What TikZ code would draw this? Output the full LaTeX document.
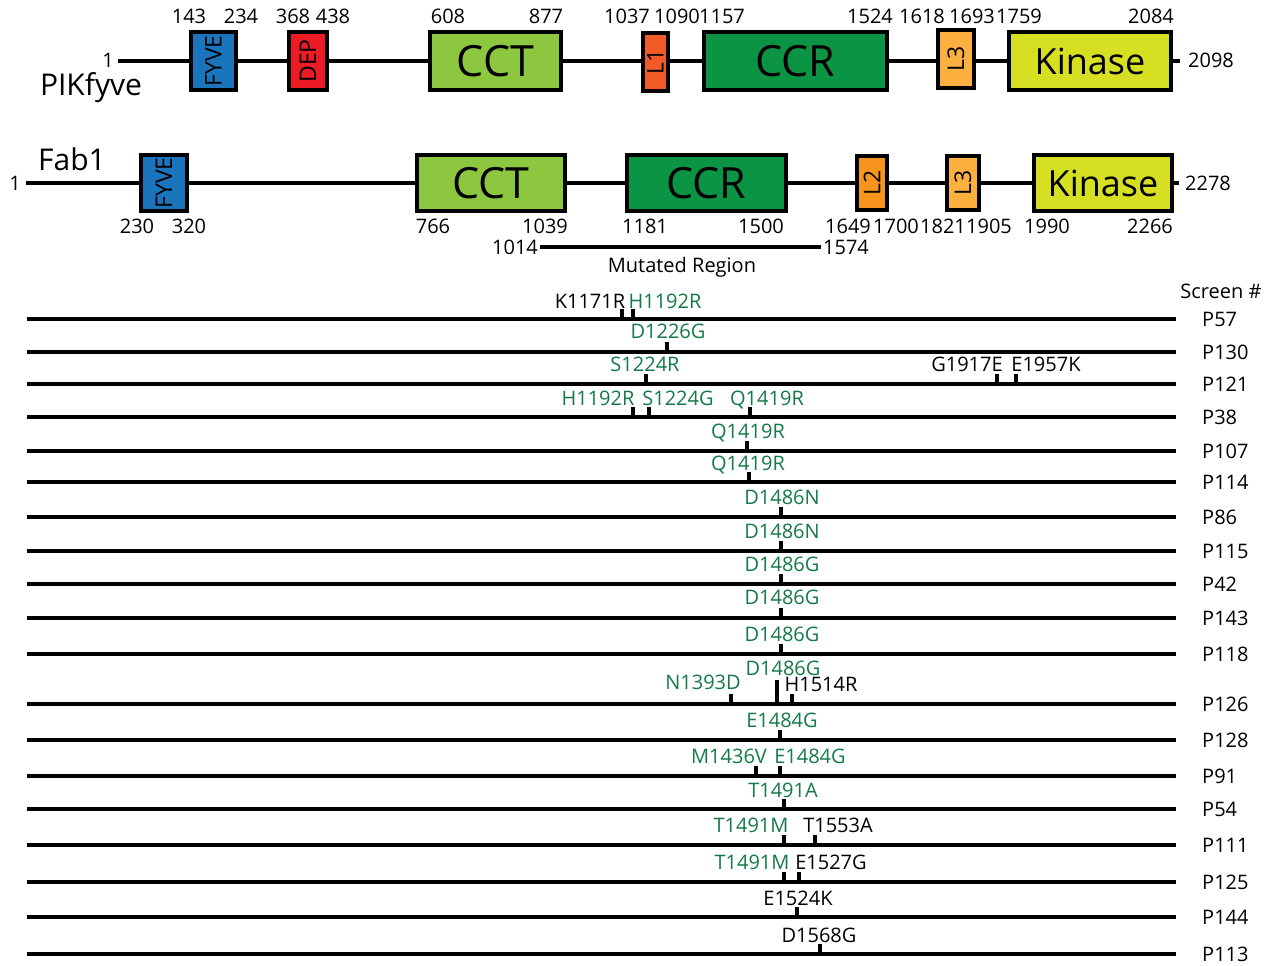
\documentclass[tikz,border=0pt]{standalone}
\usepackage{fontspec}
\setmainfont{Open Sans}
\usetikzlibrary{arrows.meta, positioning, calc}
\definecolor{dfyve}{HTML}{1B75BC}
\definecolor{ddep}{HTML}{ED1C24}
\definecolor{dcct}{HTML}{8DC63F}
\definecolor{dccr}{HTML}{0B9444}
\definecolor{dlone}{HTML}{F15A29}
\definecolor{dltwo}{HTML}{F7941D}
\definecolor{dlthree}{HTML}{FBB040}
\definecolor{dkin}{HTML}{D7DF23}
\definecolor{mgreen}{HTML}{137A47}
\tikzset{
  font=\fontsize{20}{22}\selectfont,
  dom/.style={
    draw=black, fill=#1, line width=4pt, inner sep=0pt,
    font=\fontsize{43}{43}\selectfont
  },
  vdom/.style={dom=#1, font=\fontsize{23}{23}\selectfont},
  kin/.style={font=\fontsize{36}{36}\selectfont},
  num/.style={inner sep=0pt, text height=14pt, text depth=0pt},
  protname/.style={inner sep=0pt, text height=21pt, text depth=0pt, font=\fontsize{30}{30}\selectfont},
  bb/.style={line width=4pt},
  tick/.style={line width=4pt},
  mut/.style={num, text=#1},
  mut/.default=black
}

\begin{document}
\begin{tikzpicture}[x=1pt, y=-1pt]
  \useasboundingbox (0,0) rectangle (1267,966);

  % PIKfyve
  \node[protname] (pname) at (91,85) {PIKfyve};
  \node[num] (p1) at (108,61) {1};
  \node[num] (p2098) at (1211,61) {2098};
  \draw[bb, shorten <=4pt, shorten >=8pt] (p1.east) -- (p2098.west);
  \node[vdom=dfyve, minimum width=45, minimum height=58] (pfyve) at (213.5,61) {\rotatebox{90}{FYVE}};
  \node[vdom=ddep, minimum width=38, minimum height=58] (pdep) at (308,61) {\rotatebox{90}{DEP}};
  \node[dom=dcct, minimum width=131, minimum height=58] (pcct) at (495.5,61) {CCT};
  \node[vdom=dlone, minimum width=25, minimum height=58] (plone) at (655.5,62) {\rotatebox{90}{L1}};
  \node[dom=dccr, minimum width=183, minimum height=58] (pccr) at (795.5,61) {CCR};
  \node[vdom=dlthree, minimum width=36, minimum height=58] (plthree) at (956,59) {\rotatebox{90}{L3}};
  \node[dom=dkin, kin, minimum width=162, minimum height=58] (pkin) at (1090,61) {Kinase};
  \foreach \x/\t in {189/143, 241/234, 293/368, 333/438, 448/608, 546/877,
                     627/1037, 677/1090, 722/1157, 870/1524,
                     922/1618, 972/1693, 1019/1759, 1151/2084}
    \node[num] (pn\t) at (\x,17) {\t};

  % Fab1
  \node[protname] (fname) at (72,160) {Fab1};
  \node[num] (f1) at (15,183) {1};
  \node[num] (f2278) at (1208,183) {2278};
  \draw[bb, shorten <=5pt, shorten >=6pt] (f1.east) -- (f2278.west);
  \node[vdom=dfyve, minimum width=46, minimum height=56] (ffyve) at (164,183) {\rotatebox{90}{FYVE}};
  \node[dom=dcct, minimum width=148, minimum height=56] (fcct) at (491,183) {CCT};
  \node[dom=dccr, minimum width=159, minimum height=56] (fccr) at (706.5,183) {CCR};
  \node[vdom=dltwo, minimum width=30, minimum height=54] (fltwo) at (872,183) {\rotatebox{90}{L2}};
  \node[vdom=dlthree, minimum width=32, minimum height=54] (flthree) at (963,183) {\rotatebox{90}{L3}};
  \node[dom=dkin, kin, minimum width=138, minimum height=56] (fkin) at (1103,183) {Kinase};
  \foreach \x/\t in {137/230, 189/320, 433/766, 545/1039, 645/1181, 761/1500,
                     848/1649, 896/1700, 943/1821, 989/1905, 1047/1990, 1150/2266}
    \node[num] (fn\t) at (\x,226) {\t};

  % mutated region
  \node[num] (r1014) at (515,247) {1014};
  \node[num] (r1574) at (846,247) {1574};
  \draw[bb, shorten <=2pt, shorten >=2pt] (r1014.east) -- (r1574.west);
  \node[num] (mreg) at (682,265) {Mutated Region};

  % screens
  \node[num] (scrhead) at (1221,291) {Screen \#};
  \foreach \n/\y in {P57/319, P130/352, P121/384, P38/417, P107/451, P114/482,
                     P86/517, P115/551, P42/584, P143/618, P118/654, P126/704,
                     P128/740, P91/776, P54/809, P111/845, P125/882, P144/917, P113/954}
  {
    \node[num, anchor=west] (\n) at (1202,\y) {\n};
    \coordinate (s\n) at (27,\y);
    \coordinate (e\n) at (1176,\y);
    \draw[bb] (s\n) -- (e\n);
  }

  % point mutations: line y / site x / tick / label x / label y / colour / name
  \foreach \y/\x/\h/\lx/\ly/\c/\t in {
      319/622/10/590/301/black/K1171R, 319/633/10/665/301/mgreen/H1192R,
      352/667/10/668/331/mgreen/D1226G,
      384/646/10/645/364/mgreen/S1224R, 384/997/10/967/364/black/G1917E,
      384/1016/10/1046/364/black/E1957K,
      417/633/10/598/398/mgreen/H1192R, 417/649/10/678/398/mgreen/S1224G,
      417/750/10/767/398/mgreen/Q1419R,
      451/747/10/748/431/mgreen/Q1419R,
      482/749/10/748/463/mgreen/Q1419R,
      517/781/10/782/497/mgreen/D1486N,
      551/781/10/782/531/mgreen/D1486N,
      584/781/10/782/564/mgreen/D1486G,
      618/781/10/782/597/mgreen/D1486G,
      654/781/10/782/634/mgreen/D1486G,
      704/777/24/783/668/mgreen/D1486G, 704/731/10/703/682/mgreen/N1393D,
      704/792/10/821/684/black/H1514R,
      740/780/10/782/720/mgreen/E1484G,
      776/756/10/729/756/mgreen/M1436V, 776/780/10/810/756/mgreen/E1484G,
      809/784/10/783/790/mgreen/T1491A,
      845/784/10/751/825/mgreen/T1491M, 845/815/10/838/825/black/T1553A,
      882/784/10/752/862/mgreen/T1491M, 882/799/10/831/862/black/E1527G,
      917/797/10/798/898/black/E1524K,
      954/820/10/819/935/black/D1568G}
  {
    \draw[tick] (\x,\y) -- ++(0,-\h);
    \node[mut=\c] (m\y x\x) at (\lx,\ly) {\t};
  }
\end{tikzpicture}
\end{document}
